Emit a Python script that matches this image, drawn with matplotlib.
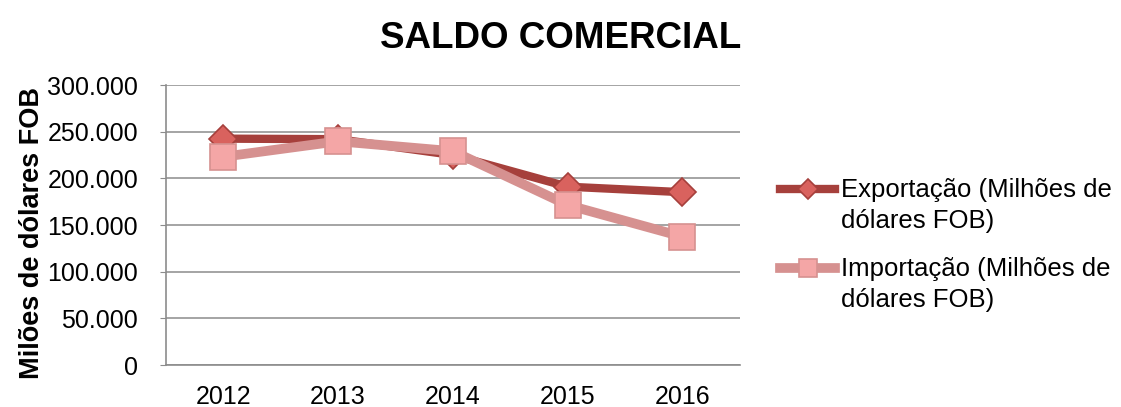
import matplotlib.pyplot as plt
from matplotlib.legend_handler import HandlerLine2D
import numpy as np

# Data (milhões de dólares FOB)
anos = ['2012', '2013', '2014', '2015', '2016']
exportacao = [242580, 242034, 225101, 191134, 185235]
importacao = [223183, 239748, 229154, 171449, 137552]

plt.rcParams['font.family'] = ['Liberation Sans', 'DejaVu Sans']


# legend handle sits on the first line of a two-line label (like Excel)
class FirstLineHandler(HandlerLine2D):
    def create_artists(self, legend, orig_handle, xdescent, ydescent,
                       width, height, fontsize, trans):
        artists = super().create_artists(legend, orig_handle, xdescent, ydescent,
                                         width, height, fontsize, trans)
        for a in artists:
            a.set_ydata(np.asarray(a.get_ydata()) + 0.66 * fontsize)
        return artists


x = np.arange(len(anos))

fig = plt.figure(figsize=(11.21, 4.07), dpi=100)
ax = fig.add_axes([0.148, 0.103, 0.512, 0.688])

l1, = ax.plot(x, exportacao, color='#A6403C', linewidth=6, marker='D', markersize=14,
              markerfacecolor='#D9625E', markeredgecolor='#A6403C', markeredgewidth=1.2,
              label='Exportação (Milhões de\ndólares FOB)', zorder=3)
l2, = ax.plot(x, importacao, color='#D69190', linewidth=7, marker='s', markersize=19,
              markerfacecolor='#F4A6A6', markeredgecolor='#D69190', markeredgewidth=1.2,
              label='Importação (Milhões de\ndólares FOB)', zorder=4)

ax.set_xlim(-0.5, len(anos) - 0.5)
ax.set_ylim(0, 300000)
ax.set_yticks(np.arange(0, 300001, 50000))
ax.set_yticklabels(['0', '50.000', '100.000', '150.000', '200.000', '250.000', '300.000'])
ax.set_xticks(x)
ax.set_xticklabels(anos)

ax.grid(True, axis='y', color='#8C8C8C', linewidth=1.1)
ax.set_axisbelow(True)
for s in ['top', 'right']:
    ax.spines[s].set_visible(False)
for s in ['left', 'bottom']:
    ax.spines[s].set_color('#8C8C8C')
    ax.spines[s].set_linewidth(1.2)

ax.tick_params(axis='y', labelsize=18, length=4, color='#8C8C8C', pad=16)
ax.tick_params(axis='x', labelsize=18, length=0, pad=14.5)

ax.set_ylabel('Milões de dólares FOB', fontsize=19.5, fontweight='bold')
ax.yaxis.set_label_coords(-0.21, 0.473)

fig.text(0.5, 0.905, 'SALDO COMERCIAL', fontsize=26.5, fontweight='bold',
         ha='center', va='center')

leg = fig.legend(loc='upper left', bbox_to_anchor=(0.696, 0.563), frameon=False,
                 fontsize=18.5, handlelength=2.15, handletextpad=0.2,
                 labelspacing=0.9, borderpad=0, borderaxespad=0, markerscale=0.7,
                 handler_map={l1: FirstLineHandler(), l2: FirstLineHandler()})
for t in leg.get_texts():
    t.set_linespacing(1.4)

plt.savefig('out.png', dpi=100, facecolor='white')
